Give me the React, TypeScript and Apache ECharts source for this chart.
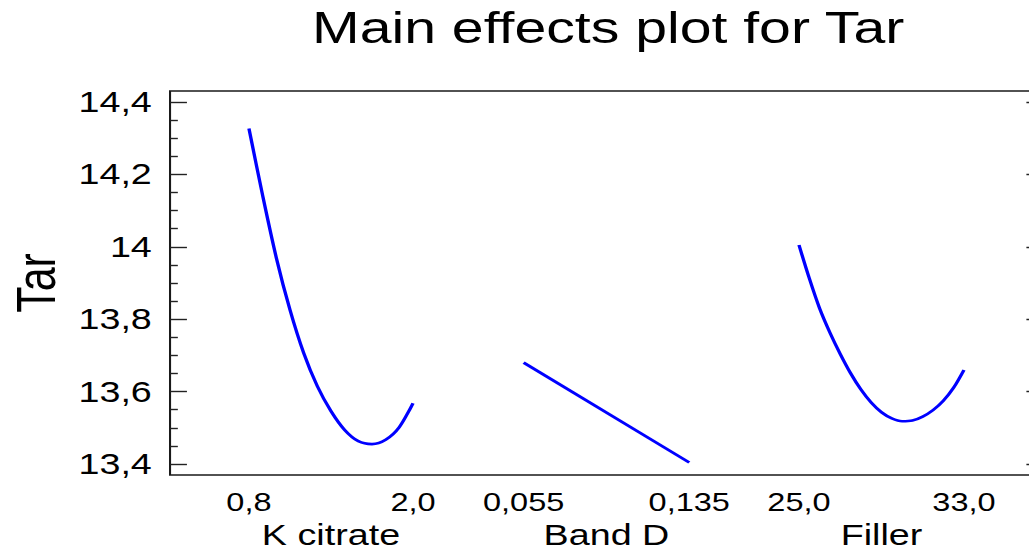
import React, { useEffect, useRef } from "react";
import * as echarts from "echarts";

// ---- data ----
const titleText = "Main effects plot for Tar";
const yName = "Tar";
const yTicks = [13.4, 13.6, 13.8, 14.0, 14.2, 14.4];
const yTickLabels = ["13,4", "13,6", "13,8", "14", "14,2", "14,4"];

const kCitrateName = "K citrate";
const kCitrateTicks = [0.8, 2.0];
const kCitrateTickLabels = ["0,8", "2,0"];
const kCitrateX = [0.8, 0.9, 1.0, 1.1, 1.2, 1.3, 1.4, 1.5, 1.6, 1.7, 1.8, 1.9, 2.0];
const kCitrateTar = [14.327, 14.142, 13.970, 13.826, 13.707, 13.615, 13.546, 13.494, 13.463, 13.455, 13.467, 13.502, 13.568];

const bandDName = "Band D";
const bandDTicks = [0.055, 0.135];
const bandDTickLabels = ["0,055", "0,135"];
const bandDX = [0.055, 0.135];
const bandDTar = [13.68, 13.404];

const fillerName = "Filler";
const fillerTicks = [25.0, 33.0];
const fillerTickLabels = ["25,0", "33,0"];
const fillerX = [25, 25.5, 26, 26.5, 27, 27.5, 28, 28.5, 29, 29.5, 30, 30.5, 31, 31.5, 32, 32.5, 33];
const fillerTar = [14.005, 13.913, 13.830, 13.763, 13.704, 13.651, 13.606, 13.570, 13.543, 13.526, 13.518, 13.520, 13.531, 13.549, 13.575, 13.611, 13.660];

// ---- layout ----
const S = 1.3; // horizontal stretch of the reference picture
const W = 1029 / S;
const H = 551;
const FONT = "'Liberation Sans', Arial, Helvetica, sans-serif";
const BLUE = "#0000ff";

const lookup = (ticks: number[], labels: string[]) => (v: number) => {
  const i = ticks.findIndex((t) => Math.abs(t - v) < 1e-9);
  return i >= 0 ? labels[i] : "";
};

const pairs = (xs: number[], ys: number[]) => xs.map((x, i) => [x, ys[i]]);

export default function App() {
  const ref = useRef<HTMLDivElement>(null);
  useEffect(() => {
    if (!ref.current) return;
    const chart = echarts.init(ref.current, undefined, { renderer: "svg", width: W, height: H });

    const panelGrid = (left: number, right: number) => ({
      left,
      right,
      top: 102,
      bottom: 87,
      outerBoundsMode: "none",
    });

    const panelX = (gridIndex: number, ticks: number[], labels: string[], name: string) => ({
      type: "value",
      gridIndex,
      min: ticks[0],
      max: ticks[ticks.length - 1],
      axisLine: { show: false },
      axisTick: { show: false },
      splitLine: { show: false },
      axisLabel: {
        customValues: ticks,
        formatter: lookup(ticks, labels),
        fontSize: 25,
        fontFamily: FONT,
        color: "#000",
        margin: 26,
      },
      name,
      nameLocation: "middle",
      nameGap: 57,
      nameMoveOverlap: false,
      nameTextStyle: { fontSize: 29, fontFamily: FONT, color: "#000" },
    });

    const hiddenY = (gridIndex: number) => ({
      type: "value",
      gridIndex,
      min: yTicks[0],
      max: yTicks[yTicks.length - 1],
      show: false,
    });

    const lineSeries = (xi: number, yi: number, xs: number[], ys: number[]) => ({
      type: "line",
      xAxisIndex: xi,
      yAxisIndex: yi,
      data: pairs(xs, ys),
      showSymbol: false,
      smooth: 0.3,
      lineStyle: { color: BLUE, width: 2.6 },
      silent: true,
    });

    chart.setOption({
      animation: false,
      backgroundColor: "#ffffff",
      title: {
        text: titleText,
        left: 240,
        top: 6,
        padding: 0,
        textStyle: { fontSize: 44, fontWeight: "normal", fontFamily: FONT, color: "#000" },
      },
      grid: [
        {
          left: 130.8,
          right: -1,
          top: 91,
          bottom: 76,
          show: true,
          borderColor: "#1a1a1a",
          borderWidth: 1.6,
          backgroundColor: "transparent",
          outerBoundsMode: "none",
        },
        { left: 130.8, right: -1, top: 102, bottom: 87, outerBoundsMode: "none" },
        panelGrid(191.5, W - 317.7),
        panelGrid(402.8, W - 530.2),
        panelGrid(614.6, W - 741.5),
      ],
      xAxis: [
        { type: "value", gridIndex: 0, min: 0, max: 1, show: false },
        { type: "value", gridIndex: 1, min: 0, max: 1, show: false },
        panelX(2, kCitrateTicks, kCitrateTickLabels, kCitrateName),
        panelX(3, bandDTicks, bandDTickLabels, bandDName),
        panelX(4, fillerTicks, fillerTickLabels, fillerName),
      ],
      yAxis: [
        { type: "value", gridIndex: 0, min: 0, max: 1, show: false },
        {
          type: "value",
          gridIndex: 1,
          position: "left",
          min: yTicks[0],
          max: yTicks[yTicks.length - 1],
          interval: 0.2,
          axisLine: { show: false },
          splitLine: { show: false },
          axisTick: { show: true, inside: true, length: 13, lineStyle: { color: "#222", width: 1.4 } },
          minorTick: { show: true, splitNumber: 4, length: 6, lineStyle: { color: "#222", width: 1.4 } },
          axisLabel: {
            formatter: lookup(yTicks, yTickLabels),
            fontSize: 29,
            fontFamily: FONT,
            color: "#000",
            margin: 14,
          },
          name: yName,
          nameLocation: "middle",
          nameGap: 82,
          nameRotate: 90,
          nameMoveOverlap: false,
          nameTextStyle: { fontSize: 43, fontFamily: FONT, color: "#000" },
        },
        {
          type: "value",
          gridIndex: 1,
          position: "right",
          min: yTicks[0],
          max: yTicks[yTicks.length - 1],
          interval: 0.2,
          axisLine: { show: false },
          splitLine: { show: false },
          axisLabel: { show: false },
          axisTick: { show: true, inside: true, length: 3, lineStyle: { color: "#222", width: 1.4 } },
        },
        hiddenY(2),
        hiddenY(3),
        hiddenY(4),
      ],
      series: [
        lineSeries(2, 3, kCitrateX, kCitrateTar),
        lineSeries(3, 4, bandDX, bandDTar),
        lineSeries(4, 5, fillerX, fillerTar),
      ],
    });
    return () => chart.dispose();
  }, []);

  return (
    <div
      ref={ref}
      style={{
        position: "absolute",
        left: 0,
        top: 0,
        width: W,
        height: H,
        transform: `scaleX(${S})`,
        transformOrigin: "0 0",
      }}
    />
  );
}
